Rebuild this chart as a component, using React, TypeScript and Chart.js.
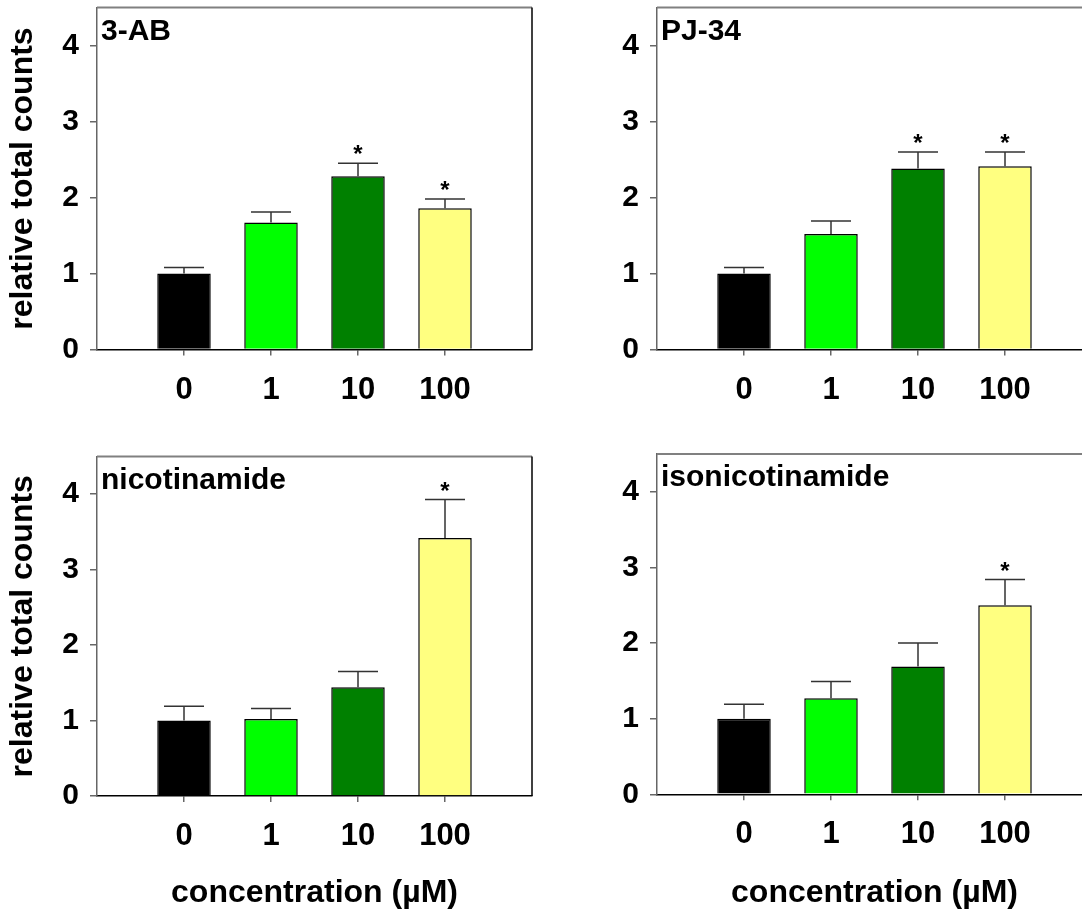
import React, { useEffect, useRef } from 'react';
import { Chart, registerables } from 'chart.js';

Chart.register(...registerables);

const FONT = '"Liberation Sans", Arial, Helvetica, sans-serif';

// ---- data ----
const categories = ['0', '1', '10', '100'];
const barColors = ['#000000', '#00ff00', '#008000', '#ffff80'];
const yTickValues = [0, 1, 2, 3, 4];
const yMax = 4.5;
const yAxisTitle = 'relative total counts';
const xAxisTitle = 'concentration (µM)';

const ab3Values = [1.0, 1.67, 2.28, 1.86];
const ab3Errors = [0.08, 0.14, 0.17, 0.12];
const ab3Significant = [false, false, true, true];

const pj34Values = [1.0, 1.52, 2.38, 2.41];
const pj34Errors = [0.08, 0.17, 0.22, 0.19];
const pj34Significant = [false, false, true, true];

const nicValues = [1.0, 1.02, 1.44, 3.42];
const nicErrors = [0.19, 0.14, 0.21, 0.51];
const nicSignificant = [false, false, false, true];

const isoValues = [1.0, 1.27, 1.69, 2.5];
const isoErrors = [0.19, 0.22, 0.31, 0.34];
const isoSignificant = [false, false, false, true];

// ---- layout ----
type Area = { left: number; right: number; top: number; bottom: number };
type Panel = {
  title: string;
  values: number[];
  errors: number[];
  significant: boolean[];
  showY: boolean;
  showX: boolean;
  pos: { left: number; top: number; width: number; height: number };
  area: Area;
};

const panels: Panel[] = [
  {
    title: '3-AB', values: ab3Values, errors: ab3Errors, significant: ab3Significant,
    showY: true, showX: false,
    pos: { left: 0, top: 0, width: 560, height: 448 },
    area: { left: 97, right: 532, top: 7.5, bottom: 349.5 },
  },
  {
    title: 'PJ-34', values: pj34Values, errors: pj34Errors, significant: pj34Significant,
    showY: false, showX: false,
    pos: { left: 560, top: 0, width: 560, height: 448 },
    area: { left: 97, right: 532, top: 7.5, bottom: 349.5 },
  },
  {
    title: 'nicotinamide', values: nicValues, errors: nicErrors, significant: nicSignificant,
    showY: true, showX: true,
    pos: { left: 0, top: 448, width: 560, height: 464 },
    area: { left: 97, right: 532, top: 8.5, bottom: 348 },
  },
  {
    title: 'isonicotinamide', values: isoValues, errors: isoErrors, significant: isoSignificant,
    showY: false, showX: true,
    pos: { left: 560, top: 448, width: 560, height: 464 },
    area: { left: 97, right: 532, top: 6, bottom: 346.3 },
  },
];

const annotPlugin = {
  id: 'annot',
  afterDatasetsDraw(chart: any, _args: any, opts: any) {
    const { ctx, scales } = chart;
    const y = scales.y;
    const meta = chart.getDatasetMeta(0);
    const ds = chart.data.datasets[0];
    ctx.save();
    meta.data.forEach((bar: any, i: number) => {
      const v = ds.data[i].y;
      const px = bar.x;
      const yb = y.getPixelForValue(v);
      const yt = y.getPixelForValue(v + opts.errors[i]);
      ctx.strokeStyle = '#333';
      ctx.lineWidth = 1.5;
      ctx.beginPath();
      ctx.moveTo(px, yb);
      ctx.lineTo(px, yt);
      ctx.moveTo(px - 20, yt);
      ctx.lineTo(px + 20, yt);
      ctx.stroke();
      if (opts.significant[i]) {
        ctx.fillStyle = '#000';
        ctx.font = `bold 24px ${FONT}`;
        ctx.textAlign = 'center';
        ctx.textBaseline = 'alphabetic';
        ctx.fillText('*', px, yt - 1);
      }
    });
    ctx.restore();
  },
  afterDraw(chart: any, _args: any, opts: any) {
    const { ctx, chartArea } = chart;
    ctx.save();
    ctx.strokeStyle = '#808080';
    ctx.lineWidth = 2;
    ctx.beginPath();
    ctx.moveTo(chartArea.left, chartArea.top);
    ctx.lineTo(chartArea.right, chartArea.top);
    ctx.stroke();
    ctx.strokeStyle = '#000';
    ctx.lineWidth = 1.5;
    ctx.beginPath();
    ctx.moveTo(chartArea.right, chartArea.top);
    ctx.lineTo(chartArea.right, chartArea.bottom);
    ctx.stroke();
    ctx.fillStyle = '#000';
    ctx.font = `bold 30px ${FONT}`;
    ctx.textAlign = 'left';
    ctx.textBaseline = 'alphabetic';
    ctx.fillText(opts.title, chartArea.left + 4, chartArea.top + 32);
    ctx.restore();
  },
};

function zeroPadding(s: any) {
  s.paddingTop = 0;
  s.paddingBottom = 0;
  s.paddingLeft = 0;
  s.paddingRight = 0;
}

function PanelChart({ panel }: { panel: Panel }) {
  const ref = useRef<HTMLCanvasElement | null>(null);
  useEffect(() => {
    if (!ref.current) return;
    const { pos, area } = panel;
    const chart = new Chart(ref.current, {
      type: 'bar',
      data: {
        datasets: [
          {
            data: panel.values.map((v, i) => ({ x: i + 1, y: v })),
            backgroundColor: barColors,
            borderColor: '#000',
            borderWidth: 1.5,
            categoryPercentage: 1,
            barPercentage: 0.615,
          } as any,
        ],
      },
      options: {
        responsive: false,
        animation: false,
        devicePixelRatio: 1,
        layout: { padding: { left: 0, right: pos.width - area.right, top: area.top, bottom: 0 } },
        plugins: {
          legend: { display: false },
          tooltip: { enabled: false },
          annot: { errors: panel.errors, significant: panel.significant, title: panel.title },
        } as any,
        scales: {
          x: {
            type: 'linear',
            min: 0,
            max: categories.length + 1,
            offset: false,
            afterBuildTicks: (s: any) => {
              s.ticks = categories.map((_, i) => ({ value: i + 1 }));
            },
            afterFit: (s: any) => {
              s.height = pos.height - area.bottom;
              zeroPadding(s);
            },
            grid: { offset: false, drawOnChartArea: false, drawTicks: true, tickLength: 6, color: '#666', lineWidth: 1.5 },
            border: { color: '#000', width: 1.5 },
            ticks: {
              callback: (v: any) => categories[Number(v) - 1] ?? '',
              font: { family: FONT, size: 31, weight: 'bold' },
              color: '#000',
              padding: 16,
              maxRotation: 0,
              autoSkip: false,
            },
            title: {
              display: panel.showX,
              text: xAxisTitle,
              color: '#000',
              font: { family: FONT, size: 32, weight: 'bold' },
              padding: { top: 0, bottom: 0 },
            },
          } as any,
          y: {
            min: 0,
            max: yMax,
            afterBuildTicks: (s: any) => {
              s.ticks = yTickValues.map((v) => ({ value: v }));
            },
            afterFit: (s: any) => {
              s.width = area.left;
              zeroPadding(s);
            },
            grid: { drawOnChartArea: false, drawTicks: true, tickLength: 7, color: '#666', lineWidth: 1.5 },
            border: { color: '#666', width: 1.5 },
            ticks: {
              font: { family: FONT, size: 30, weight: 'bold' },
              color: '#000',
              padding: 11,
            },
            title: {
              display: panel.showY,
              text: yAxisTitle,
              color: '#000',
              font: { family: FONT, size: 32, weight: 'bold' },
              padding: { top: 4, bottom: 0 },
            },
          } as any,
        },
      },
      plugins: [annotPlugin],
    });
    return () => chart.destroy();
  }, [panel]);
  return (
    <div style={{ position: 'absolute', left: panel.pos.left, top: panel.pos.top, width: panel.pos.width, height: panel.pos.height }}>
      <canvas ref={ref} width={panel.pos.width} height={panel.pos.height} style={{ display: 'block' }} />
    </div>
  );
}

export default function App() {
  return (
    <div style={{ position: 'absolute', left: 0, top: 0, width: 1082, height: 912, overflow: 'hidden', background: '#fff' }}>
      {panels.map((p) => (
        <PanelChart key={p.title} panel={p} />
      ))}
    </div>
  );
}
